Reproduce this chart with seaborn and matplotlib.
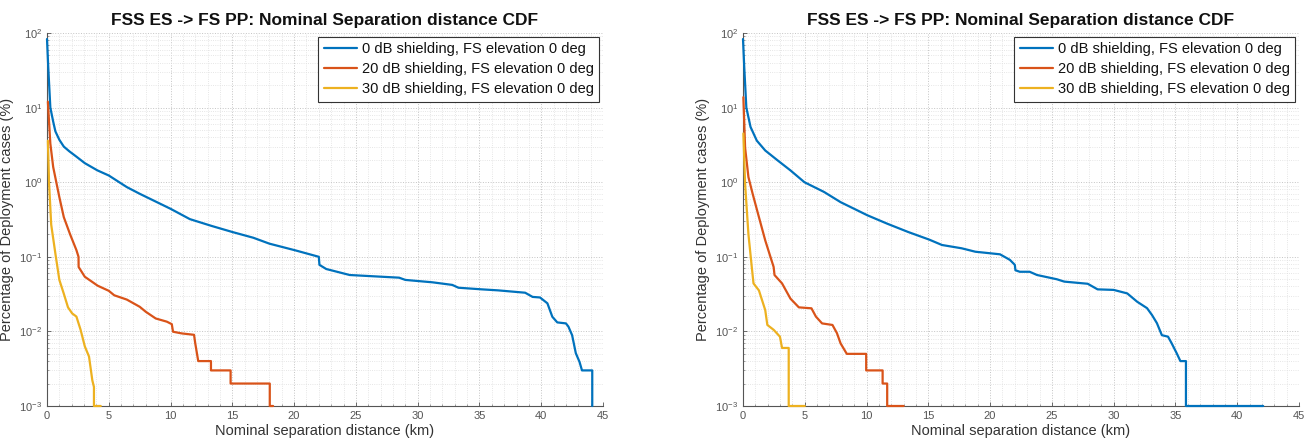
import numpy as np
import pandas as pd
import matplotlib
matplotlib.use("Agg")
import matplotlib.pyplot as plt
from matplotlib.ticker import LogLocator, LogFormatterSciNotation, MultipleLocator, NullFormatter
import seaborn as sns

# ---------------- data ----------------
TITLE = "FSS ES -> FS PP: Nominal Separation distance CDF"
XLABEL = "Nominal separation distance (km)"
YLABEL = "Percentage of Deployment cases (%)"
series_names = ["0 dB shielding, FS elevation 0 deg",
                "20 dB shielding, FS elevation 0 deg",
                "30 dB shielding, FS elevation 0 deg"]

# Left panel
L_blue_x = [0.0, 0.1, 0.27, 0.5, 0.68, 1.0, 1.36, 1.8, 2.38, 3.06, 4.08, 5.0, 6.46, 7.5, 10.0, 11.56, 13.3,
            15.0, 16.7, 18.0, 20.1, 22.0, 22.05, 22.6, 24.5, 28.5, 29.0, 31.2, 32.8, 33.3, 35.2,
            36.5, 38.7, 39.3, 39.9, 40.5, 40.9, 41.3, 42.0, 42.2, 42.5, 42.8, 43.1, 43.3, 44.13, 44.13]
L_blue_y = [83, 35, 10, 6.5, 4.8, 3.7, 3.0, 2.6, 2.2, 1.8, 1.44, 1.23, 0.86, 0.70, 0.44, 0.32, 0.26,
            0.215, 0.18, 0.15, 0.122, 0.100, 0.078, 0.0686, 0.057, 0.0525, 0.049, 0.0455, 0.042, 0.0385, 0.0366,
            0.0355, 0.033, 0.029, 0.0285, 0.0238, 0.0157, 0.0132, 0.0128, 0.0116, 0.0089, 0.0051, 0.0039, 0.003, 0.003, 0.001]

L_red_x = [0.07, 0.27, 0.5, 1.0, 1.36, 1.87, 2.38, 2.55, 2.56, 3.06, 4.1, 5.0, 5.44, 6.46, 7.5, 8.0,
           8.8, 9.7, 10.1, 10.2, 10.9, 11.9, 12.0, 12.1, 12.24, 13.27, 13.27, 14.86, 14.86, 18.03, 18.03, 18.3]
L_red_y = [12, 3.3, 1.6, 0.63, 0.34, 0.20, 0.123, 0.1, 0.073, 0.054, 0.041, 0.035, 0.0305, 0.0267, 0.0214, 0.0183,
           0.0149, 0.0135, 0.0125, 0.0099, 0.0094, 0.009, 0.0069, 0.0055, 0.004, 0.004, 0.003, 0.003, 0.002, 0.002, 0.001, 0.001]

L_yel_x = [0.07, 0.17, 0.34, 0.68, 1.0, 1.36, 1.7, 2.04, 2.38, 2.72, 3.06, 3.4, 3.67, 3.8, 3.8, 4.35]
L_yel_y = [3.6, 0.95, 0.27, 0.11, 0.049, 0.032, 0.021, 0.0174, 0.0158, 0.0105, 0.0063, 0.0046, 0.0022, 0.0018, 0.001, 0.001]

# Right panel
R_blue_x = [0.0, 0.1, 0.27, 0.61, 1.12, 1.8, 2.82, 3.84, 4.97, 6.56, 7.9, 10.07, 11.67, 13.37, 15.07,
            16.1, 17.7, 18.8, 20.8, 21.6, 22.0, 22.05, 22.4, 23.2, 23.8, 25.4, 26.0, 27.9, 28.7, 30.0,
            31.1, 31.9, 32.7, 33.1, 33.5, 33.9, 34.4, 34.7, 35.1, 35.4, 35.85, 35.85, 42.1]
R_blue_y = [83, 35, 10, 5.5, 3.6, 2.66, 1.95, 1.44, 1.0, 0.74, 0.54, 0.36, 0.278, 0.215, 0.17,
            0.144, 0.13, 0.117, 0.108, 0.091, 0.078, 0.066, 0.063, 0.063, 0.057, 0.050, 0.0465, 0.0435, 0.0366, 0.036,
            0.0323, 0.025, 0.0205, 0.0166, 0.0129, 0.0089, 0.0085, 0.0069, 0.0051, 0.004, 0.004, 0.001, 0.001]

R_red_x = [0.03, 0.17, 0.44, 0.78, 1.29, 1.8, 2.14, 2.48, 2.55, 3.16, 3.84, 4.52, 5.54, 5.9, 6.4, 7.24,
           7.6, 7.9, 8.4, 9.97, 9.97, 11.3, 11.3, 11.67, 11.67, 13.0]
R_red_y = [13.8, 2.9, 1.17, 0.70, 0.34, 0.166, 0.11, 0.073, 0.057, 0.044, 0.0275, 0.021, 0.0204, 0.0158, 0.0128, 0.0122,
           0.0095, 0.0069, 0.005, 0.005, 0.003, 0.003, 0.002, 0.002, 0.001, 0.001]

R_yel_x = [0.03, 0.17, 0.44, 0.71, 0.85, 1.29, 1.8, 1.97, 2.48, 2.99, 3.16, 3.5, 3.7, 3.7, 5.0]
R_yel_y = [4.5, 0.95, 0.2, 0.073, 0.044, 0.0354, 0.0193, 0.0122, 0.0105, 0.0085, 0.006, 0.006, 0.006, 0.001, 0.001]

panels = [
    [(L_blue_x, L_blue_y), (L_red_x, L_red_y), (L_yel_x, L_yel_y)],
    [(R_blue_x, R_blue_y), (R_red_x, R_red_y), (R_yel_x, R_yel_y)],
]

colors = ["#0072BD", "#D95319", "#EDB120"]

# ---------------- figure ----------------
sns.set_theme(style="white")
plt.rcParams["font.family"] = ["Liberation Sans", "DejaVu Sans"]
plt.rcParams["mathtext.fontset"] = "custom"
plt.rcParams["mathtext.rm"] = "Liberation Sans"
plt.rcParams["mathtext.it"] = "Liberation Sans:italic"

fig = plt.figure(figsize=(13.15, 4.41), dpi=100)
W, H = 1315, 441
boxes = [(47, 33, 603, 406), (743, 33, 1299, 406)]

for (x0, y0, x1, y1), data in zip(boxes, panels):
    ax = fig.add_axes([x0 / W, (H - y1) / H, (x1 - x0) / W, (y1 - y0) / H])
    frames = []
    for name, (xs, ys) in zip(series_names, data):
        frames.append(pd.DataFrame({"x": xs, "y": ys, "s": name}))
    df = pd.concat(frames, ignore_index=True)
    sns.lineplot(data=df, x="x", y="y", hue="s", palette=colors, hue_order=series_names,
                 sort=False, estimator=None, units="s", linewidth=1.6, ax=ax, legend=True)
    for ln in ax.get_lines():
        ln.set_clip_on(False)
    ax.set_yscale("log")
    ax.set_xlim(0, 45)
    ax.set_ylim(1e-3, 1e2)
    ax.xaxis.set_major_locator(MultipleLocator(5))
    ax.xaxis.set_minor_locator(MultipleLocator(1))
    ax.yaxis.set_major_locator(LogLocator(base=10, numticks=10))
    ax.yaxis.set_minor_locator(LogLocator(base=10, subs=np.arange(2, 10), numticks=20))
    ax.yaxis.set_major_formatter(LogFormatterSciNotation())
    ax.yaxis.set_minor_formatter(NullFormatter())
    ax.grid(True, which="major", linestyle=":", color="#c4c4c4", linewidth=0.7)
    ax.grid(True, which="minor", linestyle=":", color="#dedede", linewidth=0.6)
    for s in ["top", "right"]:
        ax.spines[s].set_visible(False)
    for s in ["left", "bottom"]:
        ax.spines[s].set_color("#555555")
        ax.spines[s].set_linewidth(0.8)
        ax.spines[s].set_zorder(1)
    ax.tick_params(axis="both", which="major", direction="in", length=3, width=0.6,
                   colors="#555555", labelsize=8, left=True, bottom=True)
    ax.tick_params(axis="both", which="minor", direction="in", length=1.5, width=0.5,
                   colors="#777777", left=True, bottom=True)
    ax.set_xlabel(XLABEL, fontsize=10.5, color="#333333", labelpad=2)
    ax.set_ylabel(YLABEL, fontsize=10.5, color="#333333", labelpad=4)
    ax.set_title(TITLE, fontsize=12.5, fontweight="bold", color="#111111", pad=6)
    leg = ax.legend(loc="upper right", fontsize=10.5, frameon=True, fancybox=False,
                    edgecolor="#333333", framealpha=1, borderaxespad=0.25,
                    handlelength=2.3, handletextpad=0.3, labelspacing=0.4, borderpad=0.4)
    leg.get_frame().set_linewidth(0.8)
    for t in leg.get_texts():
        t.set_color("#111111")

fig.savefig("out.png", dpi=100)
